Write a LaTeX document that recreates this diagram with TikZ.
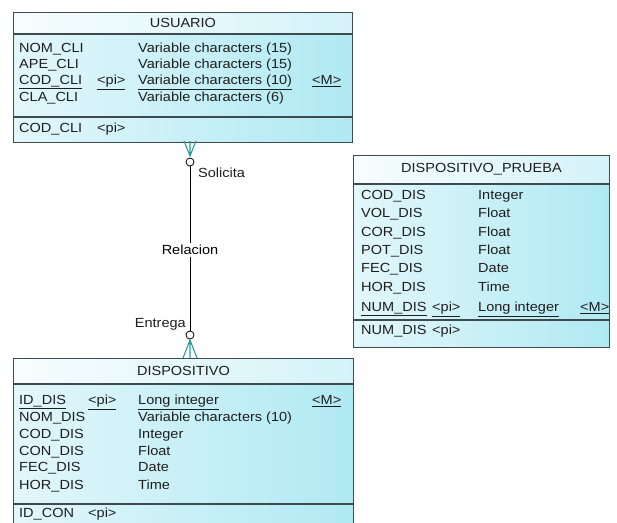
\documentclass[tikz,border=0pt]{standalone}
\usepackage{fontspec}
\setmainfont[FakeStretch=1.1]{Liberation Sans}
\usetikzlibrary{positioning}
\definecolor{borde}{HTML}{3F4A4F}
\definecolor{cabIzq}{HTML}{F7FDFE}
\definecolor{cabDer}{HTML}{D4F3F9}
\definecolor{cueIzq}{HTML}{E2F7FB}
\definecolor{cueDer}{HTML}{B0E9F3}
\definecolor{pata}{HTML}{2A9D96}
\definecolor{letra}{HTML}{1E1E1E}

\begin{document}
\begin{tikzpicture}[x=1pt,y=-1pt,font=\fontsize{13.2}{15}\selectfont,text=letra]

			\tikzstyle{cabecera}=[draw=borde,line width=0.9pt,
				left color=cabIzq,right color=cabDer,
				inner sep=0pt]
			\tikzstyle{cuerpo}=[draw=borde,line width=0.9pt,
				left color=cueIzq,right color=cueDer,
				inner sep=0pt]
			\tikzstyle{txt}=[anchor=west,inner sep=0pt,
				text height=9.3pt,text depth=0pt]
			\tikzstyle{circulo}=[circle,draw=black,fill=white,
				minimum size=8pt,inner sep=0pt,line width=0.8pt]
			\tikzstyle{pie}=[pata,line width=1.1pt]

			\useasboundingbox (0,0) rectangle (617,522);

			% USUARIO
			\node[cabecera,anchor=north west,minimum width=339pt,minimum height=21pt]
				(usu) at (13,12) {USUARIO};
			\node[cuerpo,below=0pt of usu,minimum width=339pt,minimum height=82pt]
				(usuAtr) {};
			\node[cuerpo,below=0pt of usuAtr,minimum width=339pt,minimum height=25pt]
				(usuCla) {};
			\foreach \y/\n/\t [count=\i] in {48/NOM\_CLI/Variable characters (15),
				64/APE\_CLI/Variable characters (15),97/CLA\_CLI/Variable characters (6)}{
				\node[txt] (usuN\i) at (19,\y) {\n};
				\node[txt] (usuT\i) at (138,\y) {\t};
			}
			\node[txt] (usuPk)  at (19,80)  {\underline{COD\_CLI}};
			\node[txt] (usuPi)  at (97,80)  {\underline{<pi>}};
			\node[txt] (usuTp)  at (138,80) {\underline{Variable characters (10)}};
			\node[txt] (usuM)   at (312,80) {\underline{<M>}};
			\node[txt] (usuK)   at (19,128) {COD\_CLI};
			\node[txt] (usuKpi) at (97,128) {<pi>};

			% DISPOSITIVO_PRUEBA
			\node[cabecera,anchor=north west,minimum width=256pt,minimum height=28pt]
				(pru) at (353,155) {DISPOSITIVO\_PRUEBA};
			\node[cuerpo,below=0pt of pru,minimum width=256pt,minimum height=135pt]
				(pruAtr) {};
			\node[cuerpo,below=0pt of pruAtr,minimum width=256pt,minimum height=27pt]
				(pruCla) {};
			\foreach \y/\n/\t [count=\i] in {195/COD\_DIS/Integer,213/VOL\_DIS/Float,
				232/COR\_DIS/Float,250/POT\_DIS/Float,268/FEC\_DIS/Date,287/HOR\_DIS/Time}{
				\node[txt] (pruN\i) at (361,\y) {\n};
				\node[txt] (pruT\i) at (478,\y) {\t};
			}
			\node[txt] (pruPk)  at (361,307) {\underline{NUM\_DIS}};
			\node[txt] (pruPi)  at (432,307) {\underline{<pi>}};
			\node[txt] (pruTp)  at (478,307) {\underline{Long integer}};
			\node[txt] (pruM)   at (580,307) {\underline{<M>}};
			\node[txt] (pruK)   at (361,330) {NUM\_DIS};
			\node[txt] (pruKpi) at (432,330) {<pi>};

			% DISPOSITIVO
			\node[cabecera,anchor=north west,minimum width=340pt,minimum height=25pt]
				(dis) at (13,358) {DISPOSITIVO};
			\node[cuerpo,below=0pt of dis,minimum width=340pt,minimum height=119pt]
				(disAtr) {};
			\node[cuerpo,below=0pt of disAtr,minimum width=340pt,minimum height=28pt]
				(disCla) {};
			\node[txt] (disPk)  at (19,400)  {\underline{ID\_DIS}};
			\node[txt] (disPi)  at (88,400)  {\underline{<pi>}};
			\node[txt] (disTp)  at (138,400) {\underline{Long integer}};
			\node[txt] (disM)   at (312,400) {\underline{<M>}};
			\foreach \y/\n/\t [count=\i] in {417/NOM\_DIS/Variable characters (10),
				434/COD\_DIS/Integer,451/CON\_DIS/Float,467/FEC\_DIS/Date,485/HOR\_DIS/Time}{
				\node[txt] (disN\i) at (19,\y) {\n};
				\node[txt] (disT\i) at (138,\y) {\t};
			}
			\node[txt] (disK)   at (19,513) {ID\_CON};
			\node[txt] (disKpi) at (88,513) {<pi>};

			% relacion
			\coordinate (p1) at (190,156);
			\coordinate (p2) at (190,340);
			\draw[pie] (184,141) -- (p1) -- (196,141) (p1) -- (190,141);
			\draw[pie] (183,358) -- (p2) -- (197,358) (p2) -- (190,358);
			\node[circulo] (cir1) at (190,162) {};
			\node[circulo] (cir2) at (190,335) {};
			\draw[black,line width=0.9pt] (cir1) -- (cir2)
				node[pos=0.51,fill=white,inner sep=2pt] (rel) {Relacion};
			\node[txt] (sol) at (198,173) {Solicita};
			\node[txt,anchor=east] (ent) at (186,323) {Entrega};

		\end{tikzpicture}
\end{document}
